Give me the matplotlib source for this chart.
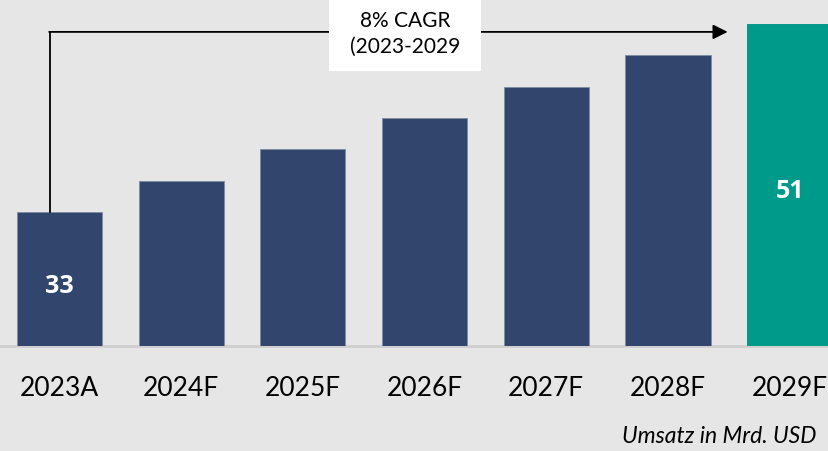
import matplotlib
matplotlib.use('Agg')
import matplotlib.pyplot as plt

# Umsatz in Mrd. USD
years = ['2023A', '2024F', '2025F', '2026F', '2027F', '2028F', '2029F']
values = [33, 36, 39, 42, 45, 48, 51]
shown = {0: '33', 6: '51'}

navy = '#32456c'
teal = '#009a8a'
bg = '#e6e6e6'

fig = plt.figure(figsize=(8.29, 4.52), dpi=100, facecolor=bg)
ax = fig.add_axes([0, 0.2323, 1, 0.7677])
ax.set_facecolor(bg)

colors = [navy] * (len(years) - 1) + [teal]
x = list(range(len(years)))
ax.bar(x, values, width=0.70, color=colors, edgecolor='#7f8ba3', linewidth=0.6, zorder=2)
ax.bar(x[-1:], values[-1:], width=0.70, color=teal, edgecolor=teal, linewidth=0.6, zorder=3)

ax.set_xlim(-0.489, 6.323)
ax.set_ylim(20.17, 53.4)
for s in ax.spines.values():
    s.set_visible(False)
ax.axhline(20.17, color='#cfcfcf', lw=2, zorder=1, clip_on=False)
ax.set_yticks([])
ax.set_xticks(x)
ax.set_xticklabels(years, fontsize=19, family='Lato')
ax.tick_params(axis='x', length=0, pad=21)

# Werte in den Balken
ax.text(0, 26.0, shown[0], ha='center', va='center', color='white',
        fontsize=18, fontweight='bold', family='Open Sans')
ax.text(6, 35.1, shown[6], ha='center', va='center', color='white',
        fontsize=18, fontweight='bold', family='Open Sans')

# CAGR-Pfeil
y_arrow = 50.25
ax.plot([-0.078, -0.078], [values[0], y_arrow], color='black', lw=1.3, zorder=4)
ax.annotate('', xy=(5.49, y_arrow), xytext=(-0.085, y_arrow),
            arrowprops=dict(arrowstyle='-|>', color='black', lw=1.3,
                            mutation_scale=22, shrinkA=0, shrinkB=0), zorder=4)
fig.patches.append(plt.Rectangle((329 / 829, 1 - 72 / 452), 152 / 829, 72 / 452,
                                 transform=fig.transFigure, facecolor='white',
                                 edgecolor='none', zorder=5))
fig.text(405 / 829, 1 - 34 / 452, '8% CAGR\n(2023-2029', ha='center', va='center',
         fontsize=15, family='Lato', linespacing=1.4, zorder=6)

fig.text(816 / 829, 1 - 437 / 452, 'Umsatz in Mrd. USD', ha='right', va='center',
         fontsize=16.5, style='italic', family='Lato')

fig.savefig('out.png', dpi=100, facecolor=bg)
